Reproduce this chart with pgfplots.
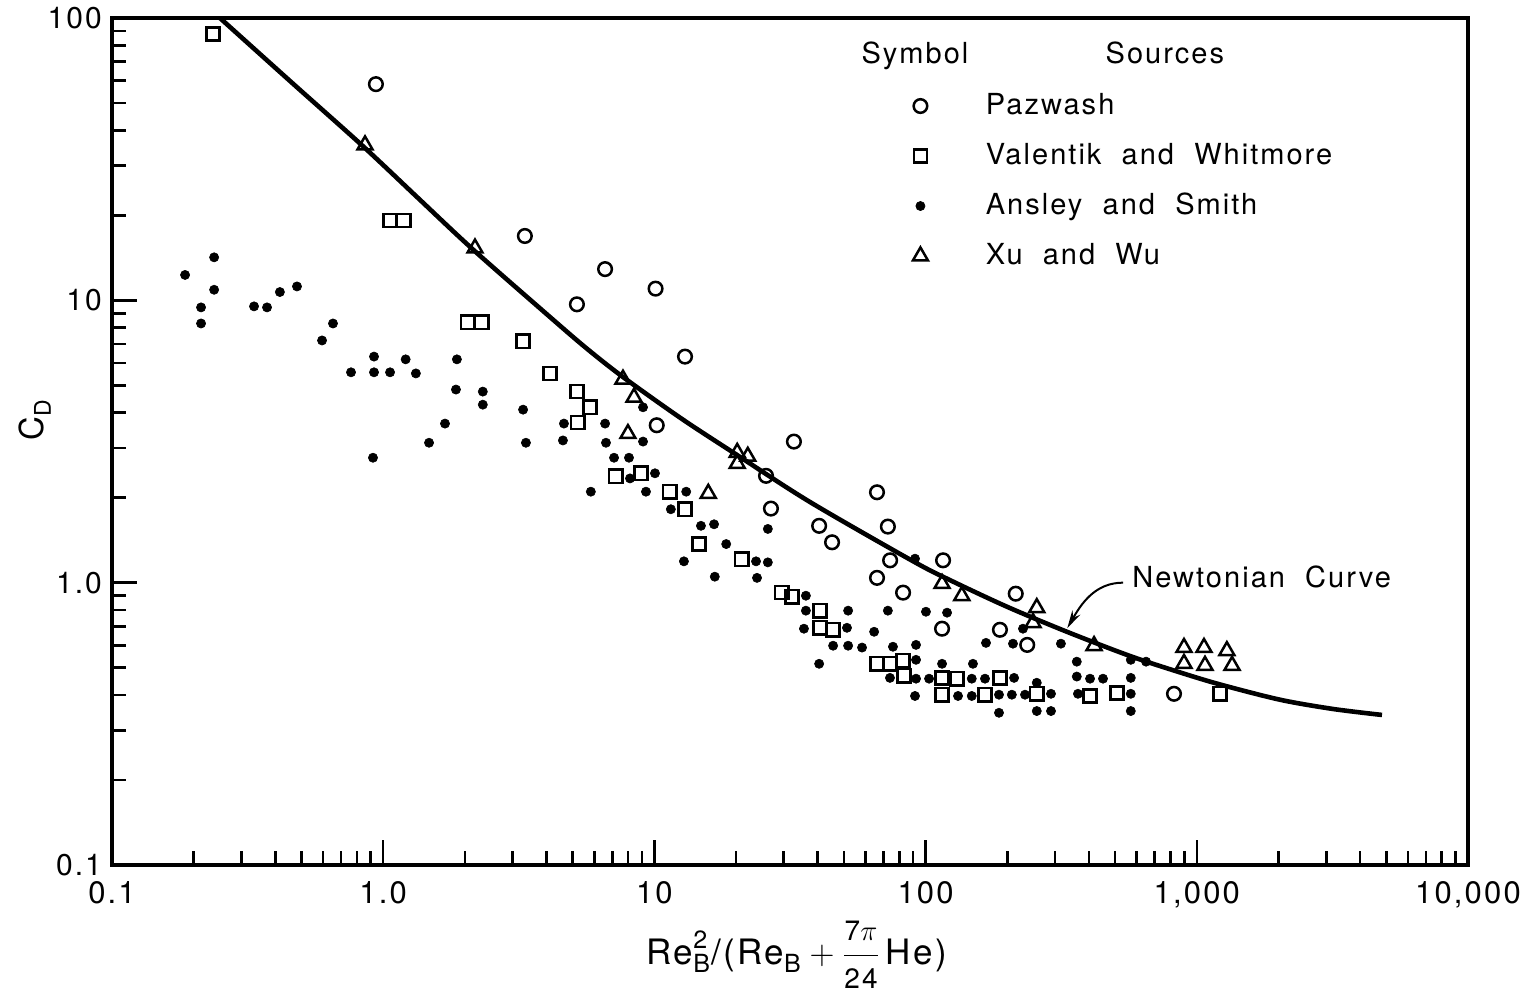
\documentclass[border=0pt]{standalone}
\usepackage{fontspec}
\setmainfont{TeX Gyre Heros}[LetterSpace=7,WordSpace=2.0]
\usepackage{pgfplots}
\pgfplotsset{compat=1.18}
\usetikzlibrary{arrows.meta}
\newcommand{\sbx}[1]{\mbox{\fontsize{12.5}{12.5}\selectfont #1}}
\begin{document}
\fontsize{14.5}{17}\selectfont
\begin{tikzpicture}
\begin{axis}[name=ax,
  scale only axis, width=678pt, height=423.5pt,
  xmode=log, ymode=log,
  xmin=0.1, xmax=10000, ymin=0.1, ymax=100,
  axis line style={line width=1.6pt},
  every tick/.style={line width=1.3pt, black},
  major tick length=12.5pt, minor tick length=7pt,
  tick pos=left,
  xtick={0.1,1,10,100,1000,10000},
  xticklabels={0.1,1.0,10,100,{1,000},{10,000}},
  ytick={0.1,1,10,100},
  yticklabels={0.1,1.0,10,100},
  xticklabel style={font=\fontsize{15.5}{17}\selectfont, yshift=-3pt},
  yticklabel style={font=\fontsize{15}{17}\selectfont},
  xlabel={$\mbox{Re}_{\sbx{B}}^{\sbx{2}}\mbox{/(Re}_{\sbx{B}}+{\displaystyle\frac{\mbox{\fontsize{14}{14}\selectfont 7$\pi$}}{\mbox{\fontsize{14}{14}\selectfont 24}}}\,\mbox{He)}$},
  xlabel style={at={(axis description cs:0.505,-0.106)}, anchor=center, font=\fontsize{17.5}{19}\selectfont},
  ylabel={C\raisebox{-0.45ex}{\fontsize{11.5}{11.5}\selectfont D}},
  ylabel style={at={(axis description cs:-0.057,0.525)}, anchor=center, font=\fontsize{16.5}{18}\selectfont},
  legend style={draw=none, fill=none, inner sep=0pt, outer sep=0pt,
    at={(rel axis cs:0.5907,0.9126)}, anchor=north west,
    row sep=11pt, column sep=29pt,
    nodes={inner sep=0pt, text height=11pt, text depth=3pt},
    font=\fontsize{14.5}{17}\selectfont},
  legend cell align=left,
]
% Newtonian curve
\addplot[line width=2.3pt, smooth, no marks, forget plot] coordinates {
(0.250,100) (0.457,59.4) (0.841,35.2) (1.349,22.96) (2.143,15.14) (4.12,8.73)
(5.62,6.76) (7.66,5.35) (12.59,3.81) (20.2,2.83) (37.5,1.93) (89.9,1.191)
(123,1.021) (199.5,0.822) (332,0.670) (567,0.550) (867,0.481) (1218,0.436)
(2027,0.385) (3178,0.357) (4818,0.340)
};
% Pazwash
\addplot[only marks, mark=o, mark size=3.4pt, mark options={line width=1.25pt, fill=white, draw=black}] coordinates {
(0.94,58.3) (3.33,16.9) (5.18,9.68) (6.58,12.9) (10.1,11.0) (12.97,6.32)
(10.2,3.61) (32.7,3.16) (25.8,2.39) (26.9,1.83) (66.2,2.09) (40.5,1.59)
(45.2,1.39) (72.6,1.58) (74,1.20) (116,1.20) (66.2,1.04) (82.6,0.922)
(115,0.687) (215,0.914) (188,0.681) (237,0.602) (824,0.404)
};
\addlegendentry{Pazwash}
% Valentik and Whitmore
\addplot[only marks, mark=square, mark size=3.3pt, mark options={line width=1.25pt, fill=white, draw=black, rounded corners=0.9pt}] coordinates {
(0.236,87.8) (1.06,19.2) (1.19,19.2) (2.05,8.36) (2.31,8.36) (3.28,7.16)
(4.12,5.51) (5.18,4.75) (5.79,4.18) (5.22,3.69) (7.2,2.38) (8.93,2.44)
(11.4,2.10) (12.97,1.82) (14.6,1.37) (21.0,1.21) (29.5,0.922) (32.2,0.892)
(40.8,0.796) (40.8,0.692) (45.6,0.681) (66.2,0.516) (73.9,0.516) (82.6,0.529)
(83.2,0.468) (115,0.460) (130.6,0.457) (188,0.460) (115,0.401) (165.6,0.401)
(257,0.404) (403.6,0.397) (507.6,0.407) (1218,0.404)
};
\addlegendentry{Valentik and Whitmore}
% Ansley and Smith
\addplot[only marks, mark=*, mark size=2.3pt, mark options={draw=black, fill=black, line width=0.3pt}] coordinates {
(0.186,12.3) (0.238,14.2) (0.238,10.9) (0.213,9.44) (0.213,8.28) (0.334,9.52)
(0.373,9.44) (0.416,10.7) (0.481,11.2) (0.653,8.28) (0.595,7.21) (0.761,5.56)
(0.925,6.32) (0.925,5.56) (1.06,5.56) (1.21,6.18) (1.32,5.51) (0.917,2.77)
(1.476,3.13) (1.69,3.66) (1.87,6.18) (1.855,4.83) (2.33,4.75) (2.33,4.27)
(3.28,4.10) (3.36,3.13) (4.64,3.66) (4.60,3.19) (6.58,3.66) (6.63,3.13)
(7.10,2.77) (8.06,2.77) (8.13,2.34) (10.05,2.44) (9.08,3.16) (9.08,4.18)
(5.83,2.10) (9.31,2.10) (13.1,2.10) (11.5,1.82) (14.85,1.59) (16.6,1.61)
(18.4,1.37) (12.85,1.19) (16.7,1.05) (23.7,1.19) (26.2,1.18) (23.9,1.04)
(26.2,1.55) (36.2,0.899) (36.2,0.796) (35.6,0.687) (51.8,0.796) (51.3,0.692)
(45.6,0.598) (51.8,0.598) (58.3,0.589) (40.5,0.516) (64.6,0.670) (72.6,0.796)
(75.8,0.593) (92.2,0.602) (92.2,0.533) (73.9,0.460) (92.2,0.457) (91.4,0.397)
(103,0.457) (115,0.516) (149.5,0.516) (100.3,0.789) (120,0.783) (131.7,0.397)
(148,0.397) (148,0.457) (165.6,0.457) (186.5,0.401) (208,0.401) (212,0.460)
(232.6,0.401) (186.5,0.346) (167,0.612) (210,0.608) (228.6,0.687) (257,0.442)
(290,0.404) (257,0.351) (290,0.351) (315.5,0.608) (361,0.525) (361,0.465)
(404,0.457) (451,0.457) (364.6,0.404) (571,0.533) (650,0.525) (571,0.460)
(571,0.404) (571,0.351) (91.4,1.216)
};
\addlegendentry{Ansley and Smith}
% Xu and Wu
\addplot[only marks, mark=triangle, mark size=4.3pt, mark options={line width=1.25pt, fill=white, draw=black}] coordinates {
(0.857,35.5) (2.18,15.3) (7.66,5.25) (8.41,4.53) (7.99,3.37) (20.2,2.89)
(22.1,2.80) (20.2,2.64) (15.8,2.07) (115,0.992) (136,0.899) (257,0.815)
(249,0.721) (418,0.598) (897,0.589) (897,0.517) (1063,0.589) (1072,0.509)
(1291,0.574) (1349,0.509)
};
\addlegendentry{Xu and Wu}
% legend header
\node[anchor=base, inner sep=0pt, font=\fontsize{14.5}{17}\selectfont] at (rel axis cs:0.5922,0.9457) {Symbol};
\node[anchor=base, inner sep=0pt, font=\fontsize{14.5}{17}\selectfont] at (rel axis cs:0.7765,0.9457) {Sources};
% Newtonian curve label
\node[anchor=base west, inner sep=0pt, font=\fontsize{14.5}{17}\selectfont] at (axis cs:577,0.960) {Newtonian Curve};
\draw[line width=1pt, -{Stealth[length=9pt, width=4.5pt]}] (axis cs:535,1.0) to[out=180, in=60] (axis cs:333,0.69);
\end{axis}
\pgfresetboundingbox
\path[use as bounding box] ([shift={(-56pt,-64.5pt)}]ax.south west) rectangle ([shift={(30pt,9pt)}]ax.north east);
\end{tikzpicture}
\end{document}
